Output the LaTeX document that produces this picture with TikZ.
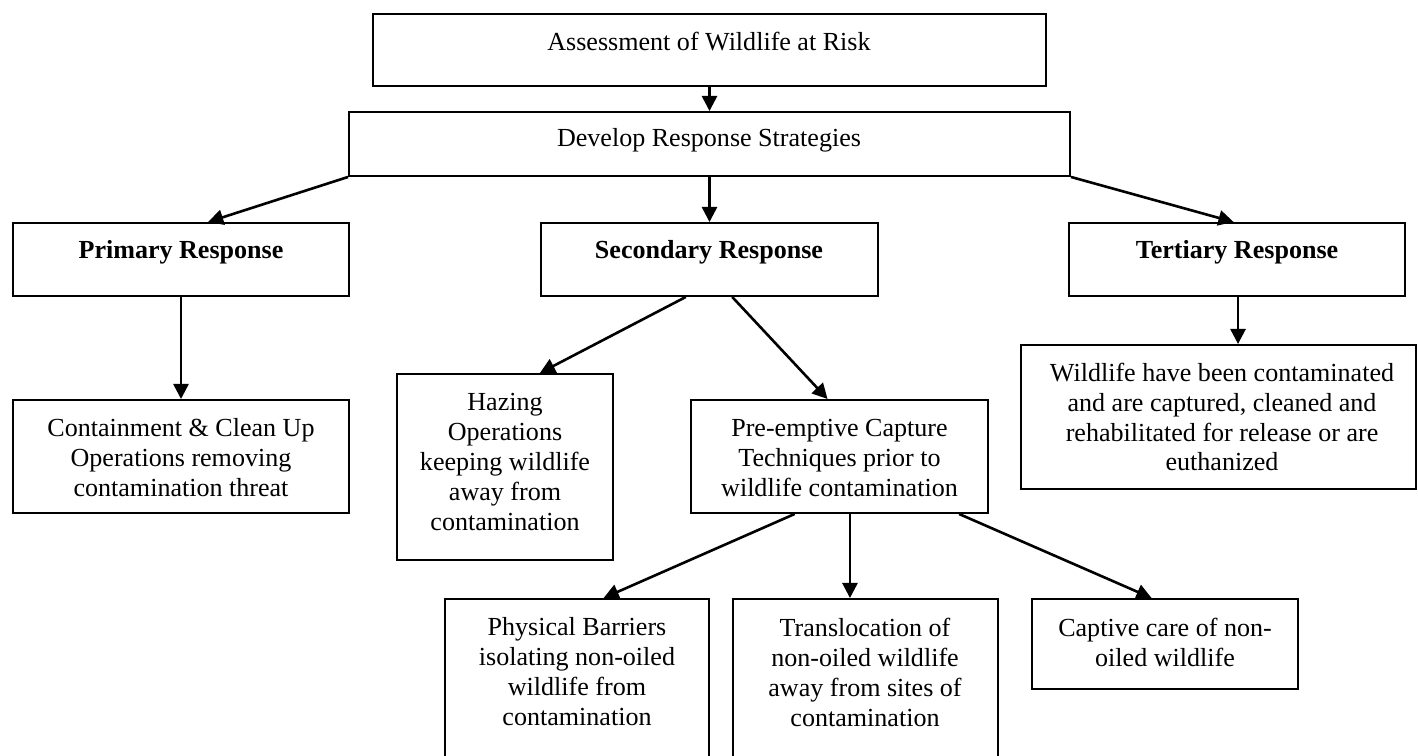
\documentclass[tikz,border=0pt]{standalone}
\usepackage{fontspec}
\setmainfont{Liberation Serif}
\usetikzlibrary{arrows.meta,fit,calc}
\begin{document}
\begin{tikzpicture}[x=0.4605pt,y=-0.4605pt,
  box/.style={draw, line width=0.9pt, inner sep=0pt},
  txt/.style={align=center, inner sep=0pt, font=\fontsize{12}{13.8}\selectfont},
  btxt/.style={txt, font=\fontsize{12}{13.8}\selectfont\bfseries},
  arr/.style={line width=1.2pt, -{Triangle[length=7pt,width=7pt]}}]
\useasboundingbox (0,0) rectangle (1418,756);
\begin{scope}
\clip (0,0) rectangle (1418,756);
% boxes
\node[box, fit={(373,14) (1046,86)}] (A) {};
\node[box, fit={(349,112) (1070,176)}] (B) {};
\node[box, fit={(13,223) (349,296)}] (P) {};
\node[box, fit={(541,223) (878,296)}] (S) {};
\node[box, fit={(1069,223) (1405,296)}] (T) {};
\node[box, fit={(13,400) (349,513)}] (C) {};
\node[box, fit={(397,374) (613,560)}] (H) {};
\node[box, fit={(691,400) (988,513)}] (E) {};
\node[box, fit={(1021,345) (1416,489)}] (W) {};
\node[box, fit={(445,599) (709,780)}] (PB) {};
\node[box, fit={(733,599) (998,780)}] (TR) {};
\node[box, fit={(1032,599) (1298,689)}] (CC) {};
% texts
\node[txt] (At) at (709,42) {Assessment of Wildlife at Risk};
\node[txt] (Bt) at (709,140) {Develop Response Strategies};
\node[btxt] (Pt) at (181,252) {Primary Response};
\node[btxt] (St) at (709,252) {Secondary Response};
\node[btxt] (Tt) at (1237,252) {Tertiary Response};
\node[txt] (Ct) at (181,458) {Containment \& Clean Up\\Operations removing\\contamination threat};
\node[txt] (Ht) at (505,462) {Hazing\\Operations\\keeping wildlife\\away from\\contamination};
\node[txt] (Et) at (839.5,458) {Pre-emptive Capture\\Techniques prior to\\wildlife contamination};
\node[txt] (Wt) at (1222,417) {Wildlife have been contaminated\\and are captured, cleaned and\\rehabilitated for release or are\\euthanized};
\node[txt] (PBt) at (577,672) {Physical Barriers\\isolating non-oiled\\wildlife from\\contamination};
\node[txt] (TRt) at (865,672) {Translocation of\\non-oiled wildlife\\away from sites of\\contamination};
\node[txt] (CCt) at (1165,642) {Captive care of non-\\oiled wildlife};
% connectors
\draw[arr] (A) -- (B);
\draw[arr] (B.south west) -- ($(P.north west)!0.58!(P.north east)$);
\draw[arr] (B) -- (S);
\draw[arr] (B.south east) -- ($(T.north west)!0.49!(T.north east)$);
\draw[arr] (P) -- (C);
\draw[arr] ($(S.south west)!0.43!(S.south east)$) -- ($(H.north west)!0.66!(H.north east)$);
\draw[arr] ($(S.south west)!0.567!(S.south east)$) -- ($(E.north west)!0.46!(E.north east)$);
\draw[arr] ($(T.south west)!0.503!(T.south east)$) coordinate (t1) -- (t1 |- W.north);
\draw[arr] ($(E.south west)!0.35!(E.south east)$) -- ($(PB.north west)!0.60!(PB.north east)$);
\draw[arr] ($(E.south west)!0.535!(E.south east)$) coordinate (e2) -- (e2 |- TR.north);
\draw[arr] ($(E.south west)!0.90!(E.south east)$) -- ($(CC.north west)!0.45!(CC.north east)$);
\end{scope}
\end{tikzpicture}
\end{document}
